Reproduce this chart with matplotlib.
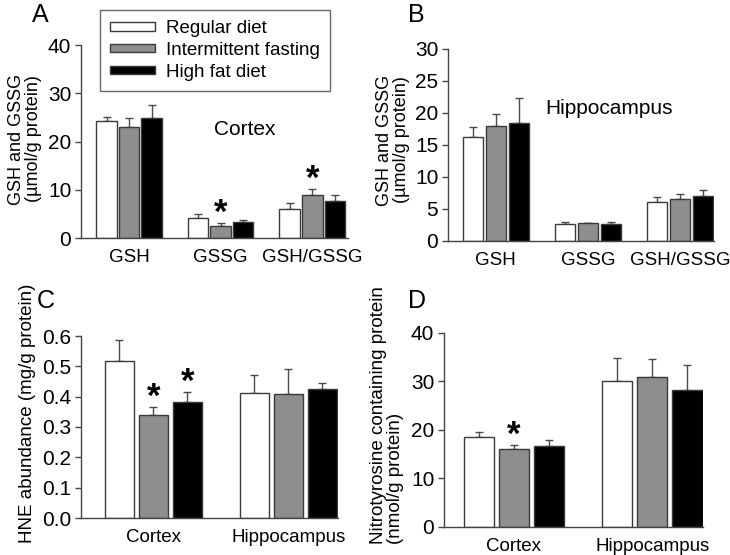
"""
Glutathione, HNE and nitrotyrosine levels in cortex / hippocampus for three diets.
"""

import numpy as np
import matplotlib.pyplot as plt
from matplotlib.patches import Patch

plt.rcParams['font.family'] = ['Liberation Sans', 'DejaVu Sans']

DIETS = ['Regular diet', 'Intermittent fasting', 'High fat diet']
COLORS = ['white', '#8c8e90', 'black']

# panel A: cortex glutathione
A_GROUPS = ['GSH', 'GSSG', 'GSH/GSSG']
A_REG = [24.3, 4.2, 6.1]
A_REG_ERR = [0.8, 0.85, 1.1]
A_IF = [23.0, 2.56, 9.0]
A_IF_ERR = [1.9, 0.55, 1.2]
A_HF = [24.8, 3.25, 7.7]
A_HF_ERR = [2.7, 0.45, 1.2]

# panel B: hippocampus glutathione
B_GROUPS = ['GSH', 'GSSG', 'GSH/GSSG']
B_REG = [16.25, 2.7, 6.04]
B_REG_ERR = [1.55, 0.2, 0.8]
B_IF = [17.97, 2.76, 6.56]
B_IF_ERR = [1.83, 0.12, 0.78]
B_HF = [18.4, 2.65, 6.96]
B_HF_ERR = [3.9, 0.32, 1.0]

# panel C: HNE abundance
C_GROUPS = ['Cortex', 'Hippocampus']
C_REG = [0.519, 0.411]
C_REG_ERR = [0.067, 0.06]
C_IF = [0.339, 0.408]
C_IF_ERR = [0.027, 0.082]
C_HF = [0.383, 0.425]
C_HF_ERR = [0.034, 0.021]

# panel D: nitrotyrosine
D_GROUPS = ['Cortex', 'Hippocampus']
D_REG = [18.4, 30.0]
D_REG_ERR = [1.15, 4.85]
D_IF = [16.05, 30.8]
D_IF_ERR = [0.82, 3.64]
D_HF = [16.66, 28.2]
D_HF_ERR = [1.1, 5.2]

# significance stars: (series index, group index)
A_STARS = [(1, 1), (1, 2)]
C_STARS = [(1, 0), (2, 0)]
D_STARS = [(1, 0)]

W, H = 730, 555
EDGE = '#3a3a3a'


def make_ax(fig, left, right, top, bottom):
    # pixel box -> figure fraction
    return fig.add_axes([left / W, 1 - bottom / H, (right - left) / W, (bottom - top) / H])


def ylab(fig, px, py, txt, size, malign='center'):
    fig.text(px / W, 1 - py / H, txt, rotation=90, ha='center', va='center',
             multialignment=malign, fontsize=size, linespacing=1.0)


def draw_panel(ax, groups, vals, errs, width, step, xlim, ylim, yticks, stars, fmt=None):
    x = np.arange(len(groups))
    for i, (v, e) in enumerate(zip(vals, errs)):
        pos = x + (i - 1) * step
        ax.bar(pos, v, width, color=COLORS[i], edgecolor=EDGE, linewidth=1, zorder=2)
        ax.errorbar(pos, v, yerr=[np.zeros(len(e)), e], fmt='none', ecolor='#4a4a4a',
                    elinewidth=1, capsize=3, capthick=1, zorder=1)
    for si, gi in stars:
        top = vals[si][gi] + errs[si][gi]
        ax.annotate('*', (x[gi] + (si - 1) * step, top), xytext=(0, -5), textcoords='offset points',
                    ha='center', va='bottom', fontsize=25, fontweight='bold')
    ax.set_xlim(*xlim)
    ax.set_ylim(*ylim)
    ax.set_yticks(yticks)
    if fmt:
        ax.set_yticklabels([fmt.format(t) for t in yticks])
    ax.set_xticks(x)
    ax.set_xticklabels(groups)
    for s in ['top', 'right']:
        ax.spines[s].set_visible(False)
    for s in ['left', 'bottom']:
        ax.spines[s].set_color('#444444')
        ax.spines[s].set_linewidth(1)
    ax.tick_params(axis='y', direction='out', length=4, width=1, color='#444444', labelsize=15, pad=3)
    ax.tick_params(axis='x', length=0, labelsize=13.5, pad=8)


fig = plt.figure(figsize=(7.3, 5.55), dpi=100)

axA = make_ax(fig, 81, 348, 45, 238)
draw_panel(axA, A_GROUPS, [A_REG, A_IF, A_HF], [A_REG_ERR, A_IF_ERR, A_HF_ERR],
           0.224, 0.246, (-0.525, 2.39), (0, 40), [0, 10, 20, 30, 40], A_STARS)
ylab(fig, 25, 139, 'GSH and GSSG\n(\u00b5mol/g protein)', 13)
axA.text(0.615, 0.56, 'Cortex', transform=axA.transAxes, fontsize=15, ha='center', va='center')

axB = make_ax(fig, 448, 714, 49, 241)
draw_panel(axB, B_GROUPS, [B_REG, B_IF, B_HF], [B_REG_ERR, B_IF_ERR, B_HF_ERR],
           0.22, 0.25, (-0.52, 2.37), (0, 30), [0, 5, 10, 15, 20, 25, 30], [])
ylab(fig, 393, 140, 'GSH and GSSG\n(\u00b5mol/g protein)', 13)
axB.text(0.605, 0.69, 'Hippocampus', transform=axB.transAxes, fontsize=15, ha='center', va='center')

axC = make_ax(fig, 81, 338, 336, 518)
draw_panel(axC, C_GROUPS, [C_REG, C_IF, C_HF], [C_REG_ERR, C_IF_ERR, C_HF_ERR],
           0.219, 0.252, (-0.537, 1.367), (0, 0.6), [0, 0.1, 0.2, 0.3, 0.4, 0.5, 0.6], C_STARS,
           fmt='{:.1f}')
ylab(fig, 28, 413, 'HNE abundance (mg/g protein)', 13.5)

axD = make_ax(fig, 444, 703, 332.5, 526.7)
draw_panel(axD, D_GROUPS, [D_REG, D_IF, D_HF], [D_REG_ERR, D_IF_ERR, D_HF_ERR],
           0.217, 0.253, (-0.505, 1.365), (0, 40), [0, 10, 20, 30, 40], D_STARS)
ylab(fig, 387, 415, 'Nitrotyrosine containing protein\n(nmol/g protein)', 13.5, malign='left')

# panel letters
for lbl, px, py in [('A', 32, 15), ('B', 408, 15), ('C', 37, 301), ('D', 408, 301)]:
    fig.text(px / W, 1 - py / H, lbl, fontsize=18, ha='left', va='center')

handles = [Patch(facecolor=c, edgecolor=EDGE, linewidth=1) for c in COLORS]
leg = fig.legend(handles, DIETS, loc='upper left', bbox_to_anchor=(100 / W, 1 - 10 / H),
                 fontsize=13.5, frameon=True, fancybox=False, handlelength=2.4, handleheight=0.3,
                 handletextpad=0.55, labelspacing=0.25, borderpad=0.55, borderaxespad=0)
leg.get_frame().set_edgecolor('#444444')
leg.get_frame().set_linewidth(1)

fig.savefig('out.png', dpi=100)
